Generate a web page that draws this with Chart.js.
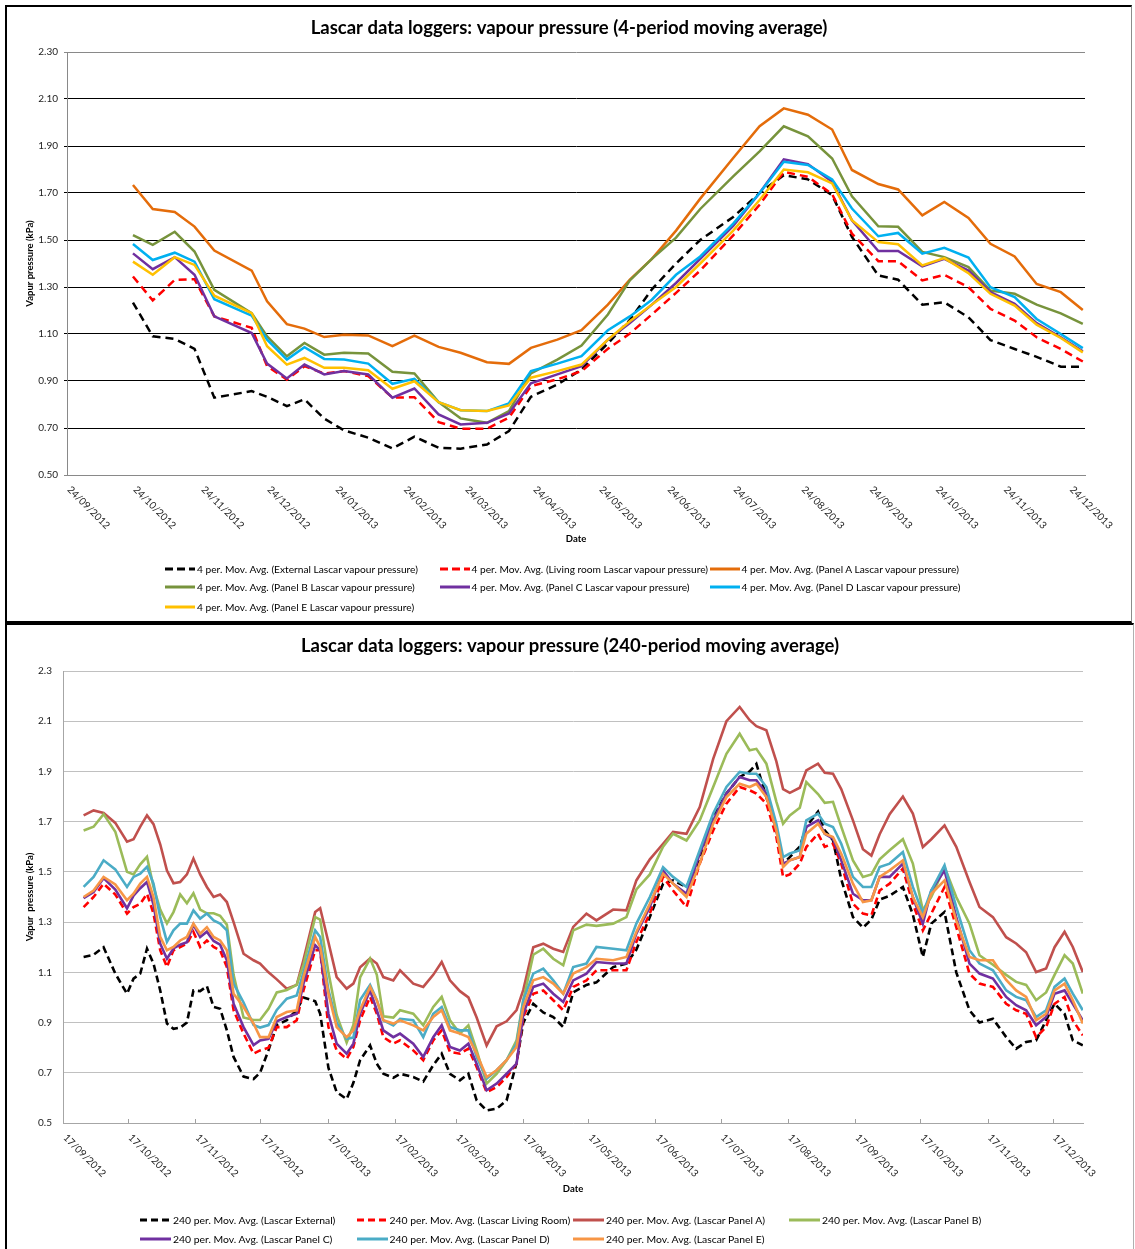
<!DOCTYPE html>
<html>
<head>
<meta charset="utf-8">
<script src="https://cdn.jsdelivr.net/npm/chart.js@4.4.1/dist/chart.umd.min.js"></script>
<style>
body{margin:0;background:#fff;font-family:Lato,sans-serif;}
.box{position:absolute;background:#fff;}
.box canvas{display:block;}
#topBox{left:5px;top:5px;width:1124px;height:614px;border:2px solid #000;border-right:1px solid #8c8c8c;}
#bottomBox{left:5px;top:623px;width:1126px;height:624px;border-left:2px solid #000;border-top:2px solid #000;border-right:1px solid #b0b0b0;}
.item{position:absolute;height:12px;display:flex;align-items:center;white-space:nowrap;color:#000;}
.item svg{display:block;flex:none;}
</style>
</head>
<body>
<div id="topBox" class="box"><canvas id="topChart" width="1124" height="614"></canvas></div>
<div id="bottomBox" class="box"><canvas id="bottomChart" width="1126" height="624"></canvas></div>
<div id="legends"></div>
<script>
/* ---------- top chart: 4-period moving average ---------- */
const topStart = '24/09/2012';
const topEnd = '31/12/2013';
const topTickLabels = ['24/09/2012','24/10/2012','24/11/2012','24/12/2012','24/01/2013','24/02/2013','24/03/2013','24/04/2013',
  '24/05/2013','24/06/2013','24/07/2013','24/08/2013','24/09/2013','24/10/2013','24/11/2013','24/12/2013'];
const topYTicks = [0.5,0.7,0.9,1.1,1.3,1.5,1.7,1.9,2.1,2.3];
const topDates = ['2012-10-24','2012-11-02','2012-11-12','2012-11-21','2012-11-30','2012-12-17','2012-12-24','2013-01-02','2013-01-10','2013-01-19',
  '2013-01-28','2013-02-08','2013-02-19','2013-03-01','2013-03-12','2013-03-22','2013-04-03','2013-04-13','2013-04-23','2013-05-05',
  '2013-05-16','2013-05-28','2013-06-07','2013-06-17','2013-06-28','2013-07-09','2013-07-24','2013-08-05','2013-08-16','2013-08-27',
  '2013-09-07','2013-09-16','2013-09-28','2013-10-07','2013-10-18','2013-10-28','2013-11-08','2013-11-18','2013-11-29','2013-12-09',
  '2013-12-20','2013-12-30'];
const topNames = ['4 per. Mov. Avg. (External Lascar vapour pressure)','4 per. Mov. Avg. (Living room Lascar vapour pressure)',
  '4 per. Mov. Avg. (Panel A Lascar vapour pressure)','4 per. Mov. Avg. (Panel B Lascar vapour pressure)',
  '4 per. Mov. Avg. (Panel C Lascar vapour pressure)','4 per. Mov. Avg. (Panel D Lascar vapour pressure)',
  '4 per. Mov. Avg. (Panel E Lascar vapour pressure)'];
const topColors = ['#000000','#ff0000','#e46c0a','#77933c','#7030a0','#00b0f0','#ffc000'];

const ext4 = [1.234,1.09,1.079,1.037,0.829,0.857,0.833,0.793,0.822,0.74,0.69,0.659,0.613,0.663,0.616,0.612,0.63,0.687,0.833,0.885,
  0.949,1.06,1.16,1.29,1.40,1.50,1.598,1.70,1.776,1.758,1.691,1.513,1.349,1.331,1.225,1.235,1.171,1.074,1.036,1.003,0.961,0.961];
const living4 = [1.345,1.243,1.33,1.333,1.175,1.126,0.963,0.906,0.963,0.932,0.942,0.921,0.829,0.831,0.725,0.697,0.697,0.744,0.878,0.907,
  0.942,1.037,1.102,1.183,1.275,1.37,1.52,1.65,1.79,1.769,1.695,1.527,1.41,1.41,1.328,1.352,1.299,1.207,1.157,1.086,1.036,0.983];
const panelA4 = [1.734,1.632,1.619,1.557,1.455,1.37,1.239,1.142,1.123,1.087,1.097,1.094,1.048,1.093,1.045,1.02,0.98,0.973,1.041,1.076,
  1.116,1.225,1.331,1.42,1.54,1.676,1.849,1.984,2.06,2.033,1.97,1.798,1.738,1.715,1.605,1.662,1.594,1.484,1.43,1.313,1.278,1.202];
const panelB4 = [1.521,1.479,1.535,1.451,1.288,1.189,1.09,1.005,1.062,1.012,1.02,1.017,0.939,0.932,0.81,0.741,0.722,0.772,0.932,0.991,
  1.051,1.183,1.328,1.42,1.51,1.632,1.771,1.877,1.984,1.941,1.847,1.686,1.558,1.556,1.449,1.427,1.385,1.285,1.271,1.225,1.188,1.143];
const panelC4 = [1.443,1.376,1.427,1.352,1.175,1.104,0.974,0.911,0.97,0.928,0.942,0.928,0.829,0.868,0.758,0.715,0.722,0.762,0.89,0.928,
  0.963,1.076,1.147,1.225,1.317,1.42,1.56,1.70,1.843,1.823,1.748,1.584,1.453,1.453,1.388,1.42,1.37,1.278,1.228,1.146,1.086,1.026];
const panelD4 = [1.483,1.415,1.446,1.408,1.248,1.178,1.076,0.991,1.044,0.994,0.991,0.974,0.888,0.909,0.81,0.776,0.772,0.805,0.942,0.974,
  1.006,1.116,1.175,1.246,1.352,1.43,1.57,1.70,1.833,1.819,1.758,1.634,1.516,1.53,1.442,1.467,1.425,1.299,1.257,1.164,1.10,1.04];
const panelE4 = [1.408,1.352,1.427,1.394,1.263,1.189,1.048,0.97,0.998,0.956,0.956,0.946,0.867,0.899,0.81,0.776,0.772,0.796,0.914,0.942,
  0.97,1.076,1.154,1.225,1.30,1.40,1.54,1.67,1.80,1.788,1.741,1.584,1.491,1.482,1.392,1.423,1.359,1.271,1.221,1.14,1.083,1.022];

/* ---------- bottom chart: 240-period moving average ---------- */
const bottomStart = '17/09/2012';
const bottomEnd = '31/12/2013';
const bottomTickLabels = ['17/09/2012','17/10/2012','17/11/2012','17/12/2012','17/01/2013','17/02/2013','17/03/2013','17/04/2013',
  '17/05/2013','17/06/2013','17/07/2013','17/08/2013','17/09/2013','17/10/2013','17/11/2013','17/12/2013'];
const bottomYTicks = [0.5,0.7,0.9,1.1,1.3,1.5,1.7,1.9,2.1,2.3];
// days after 17/09/2012
const bottomDays = [9.5,14.1,18.7,24.1,29.5,32.5,35.6,38.7,41.7,44.8,47.9,50.9,54.0,57.1,60.1,63.2,66.3,69.4,72.4,75.5,
  78.6,83.2,87.8,90.8,94.7,98.5,103.1,107.7,110.8,116.2,118.5,122.3,126.1,130.7,133.8,136.9,141.5,144.6,147.6,152.2,
  155.3,161.4,166.0,170.6,174.5,178.3,182.9,186.8,190.6,195.2,199.8,204.4,209.0,212.1,216.7,221.3,225.9,230.5,235.1,241.2,
  245.8,253.5,259.6,264.2,270.4,276.5,281.1,287.3,293.4,299.6,305.7,311.8,316.4,
  319.5,324.1,328.7,331.8,334.9,339.5,342.5,347.9,351.0,354.8,358.6,364.0,368.6,372.5,376.3,380.9,387.0,391.6,396.2,400.1,
  406.2,411.6,417.7,422.3,428.5,434.6,439.2,443.8,448.4,453.0,456.9,461.5,465.3,469.9];
const bottomNames = ['240 per. Mov. Avg. (Lascar External)','240 per. Mov. Avg. (Lascar Living Room)','240 per. Mov. Avg. (Lascar Panel A)',
  '240 per. Mov. Avg. (Lascar Panel B)','240 per. Mov. Avg. (Lascar Panel C)','240 per. Mov. Avg. (Lascar Panel D)',
  '240 per. Mov. Avg. (Lascar Panel E)'];
const bottomColors = ['#000000','#ff0000','#c0504d','#9bbb59','#7030a0','#4bacc6','#f79646'];

const ext240 = [1.161,1.17,1.20,1.095,1.015,1.075,1.095,1.194,1.135,1.028,0.896,0.875,0.88,0.90,1.028,1.025,1.045,0.962,0.955,0.869,
  0.763,0.685,0.675,0.70,0.79,0.89,0.909,0.95,1.0,0.985,0.935,0.72,0.623,0.595,0.66,0.75,0.809,0.736,0.696,0.68,
  0.696,0.683,0.665,0.73,0.776,0.696,0.67,0.696,0.59,0.55,0.557,0.59,0.74,0.90,0.975,0.94,0.922,0.882,1.02,1.05,
  1.06,1.121,1.135,1.19,1.32,1.453,1.466,1.44,1.546,1.719,1.812,1.878,1.90,
  1.93,1.798,1.665,1.533,1.559,1.60,1.68,1.74,1.665,1.626,1.47,1.32,1.278,1.31,1.39,1.405,1.44,1.33,1.161,1.294,
  1.34,1.10,0.949,0.90,0.915,0.842,0.796,0.823,0.829,0.909,0.975,0.935,0.829,0.809];
const living240 = [1.36,1.40,1.453,1.41,1.334,1.36,1.373,1.413,1.334,1.188,1.121,1.188,1.201,1.214,1.261,1.201,1.227,1.201,1.188,1.121,
  0.949,0.856,0.776,0.789,0.80,0.882,0.882,0.909,1.028,1.188,1.188,0.882,0.789,0.755,0.803,0.909,1.002,0.935,0.842,0.816,
  0.829,0.789,0.75,0.829,0.869,0.783,0.776,0.796,0.723,0.623,0.643,0.683,0.736,0.922,1.015,1.028,0.989,0.949,1.042,1.068,
  1.108,1.108,1.108,1.221,1.334,1.48,1.426,1.36,1.533,1.665,1.772,1.838,1.825,
  1.812,1.772,1.639,1.48,1.49,1.533,1.599,1.652,1.60,1.612,1.533,1.373,1.334,1.327,1.426,1.453,1.513,1.373,1.267,1.334,
  1.44,1.28,1.095,1.055,1.042,0.975,0.949,0.935,0.842,0.882,0.975,1.002,0.909,0.849];
const panelA240 = [1.725,1.745,1.735,1.695,1.62,1.63,1.68,1.725,1.69,1.61,1.505,1.455,1.46,1.49,1.553,1.49,1.44,1.40,1.41,1.38,
  1.30,1.174,1.148,1.135,1.10,1.072,1.035,1.05,1.15,1.34,1.355,1.22,1.081,1.035,1.055,1.12,1.155,1.135,1.081,1.068,
  1.108,1.055,1.042,1.09,1.141,1.068,1.025,1.00,0.92,0.809,0.885,0.905,0.95,1.03,1.20,1.214,1.194,1.181,1.281,1.334,
  1.307,1.35,1.347,1.466,1.55,1.612,1.659,1.652,1.758,1.95,2.10,2.157,2.104,
  2.08,2.064,1.94,1.83,1.815,1.835,1.904,1.931,1.895,1.891,1.83,1.705,1.59,1.565,1.65,1.73,1.80,1.732,1.599,1.63,
  1.685,1.60,1.46,1.36,1.32,1.24,1.215,1.18,1.101,1.115,1.20,1.261,1.201,1.101];
const panelB240 = [1.665,1.68,1.73,1.66,1.50,1.49,1.53,1.56,1.44,1.35,1.295,1.34,1.41,1.375,1.415,1.35,1.335,1.335,1.325,1.29,
  1.09,0.92,0.91,0.91,0.955,1.02,1.03,1.05,1.13,1.32,1.31,1.10,0.93,0.82,0.89,1.08,1.155,1.09,0.925,0.92,
  0.949,0.935,0.889,0.962,1.002,0.909,0.856,0.889,0.789,0.657,0.696,0.75,0.829,0.99,1.17,1.194,1.154,1.128,1.267,1.29,
  1.285,1.294,1.32,1.43,1.49,1.60,1.652,1.625,1.705,1.838,1.97,2.05,1.984,
  1.99,1.931,1.78,1.692,1.725,1.755,1.858,1.81,1.775,1.779,1.68,1.546,1.48,1.49,1.55,1.586,1.63,1.533,1.347,1.40,
  1.519,1.40,1.294,1.168,1.13,1.09,1.062,1.05,0.989,1.02,1.09,1.168,1.135,1.015];
const panelC240 = [1.395,1.42,1.475,1.43,1.355,1.405,1.435,1.46,1.37,1.214,1.154,1.195,1.21,1.22,1.29,1.241,1.262,1.225,1.21,1.148,
  0.975,0.882,0.81,0.829,0.835,0.905,0.922,0.935,1.055,1.208,1.188,0.935,0.816,0.776,0.816,0.935,1.028,0.949,0.869,0.842,
  0.856,0.816,0.763,0.842,0.889,0.803,0.789,0.816,0.736,0.63,0.657,0.696,0.736,0.935,1.042,1.055,1.015,0.982,1.068,1.095,
  1.141,1.135,1.135,1.254,1.36,1.506,1.453,1.413,1.573,1.705,1.812,1.878,1.865,
  1.865,1.812,1.665,1.533,1.546,1.559,1.679,1.705,1.652,1.632,1.546,1.413,1.387,1.387,1.48,1.48,1.533,1.40,1.294,1.426,
  1.506,1.32,1.135,1.095,1.075,1.002,0.969,0.949,0.889,0.922,1.015,1.028,0.975,0.909];
const panelD240 = [1.44,1.48,1.546,1.51,1.44,1.48,1.493,1.52,1.453,1.32,1.221,1.267,1.294,1.294,1.347,1.314,1.334,1.307,1.294,1.267,
  1.055,0.98,0.89,0.88,0.89,0.95,0.995,1.008,1.10,1.267,1.241,1.03,0.90,0.835,0.84,0.99,1.05,0.99,0.909,0.889,
  0.915,0.909,0.842,0.935,0.962,0.882,0.869,0.869,0.763,0.677,0.71,0.75,0.816,0.989,1.095,1.115,1.068,1.015,1.121,1.135,
  1.201,1.194,1.188,1.294,1.40,1.519,1.48,1.44,1.586,1.732,1.838,1.898,1.891,
  1.891,1.838,1.692,1.559,1.573,1.586,1.705,1.732,1.692,1.679,1.612,1.48,1.44,1.44,1.519,1.533,1.579,1.44,1.334,1.426,
  1.526,1.36,1.188,1.135,1.108,1.028,1.002,0.989,0.922,0.949,1.042,1.075,1.015,0.949];
const panelE240 = [1.40,1.426,1.48,1.45,1.387,1.413,1.453,1.48,1.40,1.241,1.188,1.201,1.227,1.241,1.294,1.254,1.28,1.241,1.227,1.188,
  1.015,0.962,0.896,0.842,0.842,0.922,0.942,0.949,1.081,1.241,1.201,1.015,0.882,0.842,0.869,0.95,1.042,0.989,0.909,0.896,
  0.909,0.889,0.869,0.922,0.949,0.869,0.856,0.842,0.776,0.683,0.71,0.75,0.803,0.962,1.068,1.081,1.055,1.015,1.095,1.121,
  1.154,1.148,1.161,1.261,1.373,1.493,1.453,1.40,1.533,1.692,1.798,1.851,1.838,
  1.851,1.798,1.665,1.519,1.546,1.559,1.652,1.692,1.652,1.639,1.572,1.453,1.38,1.387,1.48,1.506,1.546,1.40,1.32,1.413,
  1.466,1.307,1.161,1.148,1.148,1.07,1.028,1.002,0.909,0.935,1.028,1.055,0.989,0.896];

/* helpers */
const DAY = 86400000;
function utc(s){
  let p = s.indexOf('/') > -1 ? s.split('/').reverse() : s.split('-');
  return Date.UTC(+p[0], +p[1]-1, +p[2]);
}
function daysFrom(start, s){ return (utc(s) - utc(start)) / DAY; }

/* dd/mm/yyyy labels slanted down to the right, like the spreadsheet */
const slantedDates = {
  id: 'slantedDates',
  afterDraw(chart, args, opts){
    const xs = chart.scales.x, ctx = chart.ctx;
    ctx.save();
    ctx.font = '10px Lato';
    ctx.fillStyle = '#222';
    ctx.textAlign = 'left';
    ctx.textBaseline = 'middle';
    xs.ticks.forEach((t, i) => {
      const px = xs.getPixelForValue(t.value);
      if (opts.innerTicks && i > 0){
        ctx.strokeStyle = '#a0a0a0';
        ctx.lineWidth = 1;
        ctx.beginPath();
        ctx.moveTo(Math.round(px) + 0.5, xs.top - 4);
        ctx.lineTo(Math.round(px) + 0.5, xs.top);
        ctx.stroke();
      }
      ctx.save();
      ctx.translate(px + opts.dx, xs.top + opts.dy);
      ctx.rotate(Math.PI / 4);
      ctx.fillText(opts.labels[i], 0, 0);
      ctx.restore();
    });
    ctx.restore();
  }
};

function buildChart(id, o){
  const datasets = o.series.map((ys, i) => ({
    label: o.names[i],
    data: ys.map((y, k) => ({x: o.xs[k], y: y})),
    borderColor: o.colors[i],
    backgroundColor: o.colors[i],
    borderWidth: o.lineWidth,
    borderDash: i < 2 ? o.dash : [],
    pointRadius: 0,
    tension: 0,
    order: o.series.length - i
  }));
  return new Chart(document.getElementById(id), {
    type: 'line',
    data: {datasets},
    plugins: [slantedDates],
    options: {
      responsive: false,
      animation: false,
      devicePixelRatio: 1,
      layout: {padding: {left: 0, right: 0, top: 0, bottom: o.padBottom}},
      plugins: {
        legend: {display: false},
        tooltip: {enabled: false},
        title: {
          display: true,
          text: o.title,
          color: '#000',
          font: {family: 'Lato', size: 18.5, weight: 'bold'},
          padding: {top: o.titleTop, bottom: o.titleBottom}
        },
        slantedDates: {labels: o.xLabels, dx: 2, dy: 13, innerTicks: o.innerTicks}
      },
      scales: {
        x: {
          type: 'linear',
          min: 0,
          max: o.xMax,
          afterBuildTicks: s => { s.ticks = o.xTickValues.map(v => ({value: v})); },
          afterFit: s => { s.height = o.xHeight; },
          ticks: {display: false},
          grid: {display: false},
          border: {display: true, color: o.axisColor, width: 1},
          title: {
            display: true, text: 'Date', color: '#000',
            font: {family: 'Lato', size: 9.5, weight: 'bold'},
            padding: {top: 0, bottom: o.dateBottom}
          }
        },
        y: {
          type: 'linear',
          min: 0.5,
          max: 2.3,
          afterBuildTicks: s => { s.ticks = o.yTicks.map(v => ({value: v})); },
          afterFit: s => { s.width = o.yWidth; },
          ticks: {
            color: '#222',
            font: {family: 'Lato', size: 10},
            padding: o.yPad,
            callback: v => v.toFixed(o.yDigits)
          },
          grid: {
            color: o.gridColor,
            lineWidth: 1,
            drawTicks: o.yTickLen > 0,
            tickLength: o.yTickLen
          },
          border: {display: true, color: o.axisColor, width: 1},
          title: {
            display: true, text: o.yTitle, color: '#000',
            font: {family: 'Lato', size: 9.5, weight: 'bold'},
            padding: {top: 17, bottom: 0}
          }
        },
        // empty right-hand margin so the title centres on the whole frame
        gap: {
          type: 'linear',
          axis: 'y',
          position: 'right',
          afterFit: s => { s.width = o.rightGap; },
          ticks: {display: false},
          grid: {display: false},
          border: {display: false}
        }
      }
    }
  });
}

buildChart('topChart', {
  title: 'Lascar data loggers: vapour pressure (4-period moving average)',
  yTitle: 'Vapur pressure (kPa)',
  names: topNames, colors: topColors,
  series: [ext4, living4, panelA4, panelB4, panelC4, panelD4, panelE4],
  xs: topDates.map(d => daysFrom(topStart, d)),
  xMax: daysFrom(topStart, topEnd),
  xTickValues: topTickLabels.map(d => daysFrom(topStart, d)),
  xLabels: topTickLabels,
  yTicks: topYTicks, yDigits: 2,
  lineWidth: 2.5, dash: [8, 5],
  rightGap: 46, padBottom: 66, titleTop: 9.9, titleBottom: 12.9,
  xHeight: 80, dateBottom: 10.3, yWidth: 60, yPad: 6, yTickLen: 3,
  innerTicks: false,
  axisColor: '#898989',
  gridColor: c => (c.tick && (c.tick.value > 2.29 || c.tick.value < 0.51)) ? '#898989' : '#000000'
});

buildChart('bottomChart', {
  title: 'Lascar data loggers: vapour pressure (240-period moving average)',
  yTitle: 'Vapur  pressure (kPa)',
  names: bottomNames, colors: bottomColors,
  series: [ext240, living240, panelA240, panelB240, panelC240, panelD240, panelE240],
  xs: bottomDays,
  xMax: daysFrom(bottomStart, bottomEnd),
  xTickValues: bottomTickLabels.map(d => daysFrom(bottomStart, d)),
  xLabels: bottomTickLabels,
  yTicks: bottomYTicks, yDigits: 1,
  lineWidth: 2.6, dash: [7, 4],
  rightGap: 50, padBottom: 42, titleTop: 9.9, titleBottom: 13.9,
  xHeight: 84, dateBottom: 12.3, yWidth: 56, yPad: 11, yTickLen: 0,
  innerTicks: true,
  axisColor: '#a6a6a6',
  gridColor: '#c0c0c0'
});

/* legends laid out in the same column grid as the original */
function buildLegend(names, colors, cols, rows, lineLen, dash, fontSize){
  const host = document.getElementById('legends');
  names.forEach((name, i) => {
    const c = i % cols.length, r = Math.floor(i / cols.length);
    const el = document.createElement('div');
    el.className = 'item';
    el.style.left = cols[c] + 'px';
    el.style.top = (rows[r] - 6) + 'px';
    el.style.fontSize = fontSize + 'px';
    const da = i < 2 ? ' stroke-dasharray="' + dash.join(' ') + '"' : '';
    el.innerHTML = '<svg width="' + (lineLen + 2) + '" height="6"><line x1="0" y1="3" x2="' + lineLen +
      '" y2="3" stroke="' + colors[i] + '" stroke-width="3"' + da + '/></svg><span>' + name + '</span>';
    host.appendChild(el);
  });
}
buildLegend(topNames, topColors, [165, 439.5, 709.5], [568.7, 587.3, 607.3], 30, [8, 4], 10.2);
buildLegend(bottomNames, bottomColors, [140, 356.5, 573, 789], [1220, 1238.5], 31, [7, 4], 10.4);
</script>
</body>
</html>
